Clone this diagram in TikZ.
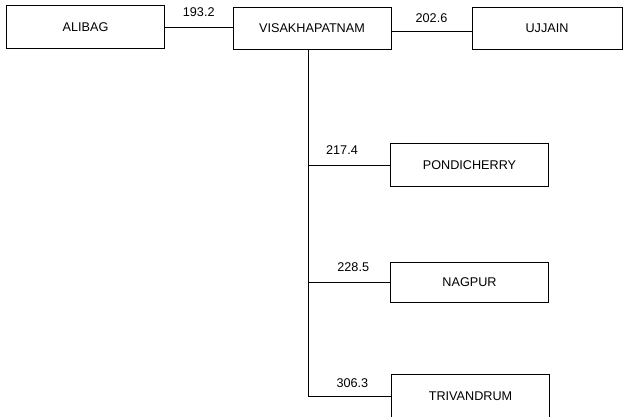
\documentclass[tikz,border=0pt]{standalone}
\usepackage{fontspec}
\setmainfont{Liberation Sans}
\usetikzlibrary{positioning}

\begin{document}
\begin{tikzpicture}[
  x=0.025cm, y=-0.025cm,
  city/.style={draw, line width=0.6pt, minimum width=3.95cm, minimum height=1.06cm, font=\fontsize{9}{10}\selectfont},
  dist/.style={font=\fontsize{9}{10}\selectfont, above=3.5pt},
  road/.style={line width=0.6pt}
]
  \useasboundingbox (0,0) rectangle (624,416);
  \clip (0,0) rectangle (624,416);

  \node[city] (alibag) at (85.5,27) {ALIBAG};
  \node[city] (visak) at (312,28.5) {VISAKHAPATNAM};
  \node[city, minimum width=3.75cm] (ujjain) at (547,28.5) {UJJAIN};
  \node[city] (pond) at (469.5,165) {PONDICHERRY};
  \node[city, minimum height=1cm] (nagpur) at (469.5,282) {NAGPUR};
  \node[city] (triv) at (470.5,396) {TRIVANDRUM};
  \coordinate (trunk) at (308,0);

  \draw[road] (alibag) -- node[dist] {193.2} (alibag -| visak.west);
  \draw[road] (visak.east |- 0,31) -- node[dist, above=2.5pt] {202.6} (ujjain.west |- 0,31);

  \draw[road] (visak.south -| trunk) -- (triv.west -| trunk);
  \draw[road] (pond.west -| trunk) -- node[dist, xshift=-5pt] {217.4} (pond.west);
  \draw[road] (nagpur.west -| trunk) -- node[dist, xshift=3pt] {228.5} (nagpur.west);
  \draw[road] (triv.west -| trunk) -- node[dist, above=2pt, xshift=2pt] {306.3} (triv.west);
\end{tikzpicture}
\end{document}
